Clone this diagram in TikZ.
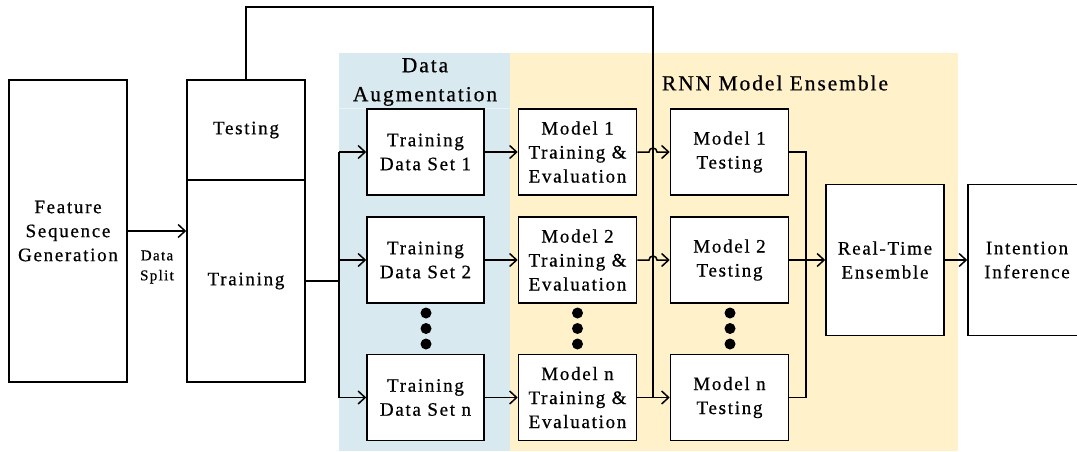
\documentclass[tikz,border=0pt]{standalone}
\usepackage{fontspec}
\setmainfont{Liberation Serif}[LetterSpace=9, FakeBold=0.6]
\usetikzlibrary{arrows.meta}
\definecolor{augblue}{RGB}{216,233,239}
\definecolor{ensyellow}{RGB}{255,241,201}
\begin{document}
\begin{tikzpicture}[x=1pt,y=-1pt,
  box/.style={draw, line width=1.6pt, fill=white, align=center, inner sep=0pt,
    font=\fontsize{19}{24}\selectfont},
  smallbox/.style={box, minimum width=117pt, minimum height=86pt},
  conn/.style={line width=1.5pt},
  arr/.style={conn, -{Straight Barb[length=7pt,width=13pt,line width=1.5pt]}},
  dot/.style={fill=black, draw=none, circle, minimum size=11pt, inner sep=0pt},
  paneltitle/.style={align=center, font=\fontsize{21.5}{29}\selectfont},
]
\useasboundingbox (0,0) rectangle (1077,451);
\clip (0,0) rectangle (1077,451);
% panels
\fill[augblue] (339,53) rectangle (510,451);
\fill[ensyellow] (510,53) rectangle (958,451);
\draw[line width=1pt, augblue!55!white] (339,108) -- (510,108);
\node[paneltitle] (datitle) at (425,82) {Data\\Augmentation};
\node[paneltitle] (rnntitle) at (775,83) {RNN Model Ensemble};
% left boxes
\node[box, minimum width=118pt, minimum height=302pt] (feat) at (68,231) {Feature\\Sequence\\Generation};
\node[box, minimum width=118pt, minimum height=100pt] (test) at (246,130) {Testing};
\node[box, minimum width=118pt, minimum height=202pt] (train) at (246,281) {Training};
\node[align=center, font=\fontsize{15}{20}\selectfont] (split) at (157,267) {Data\\Split};
% training data sets
\node[smallbox] (td1) at (425.5,152) {Training\\Data Set 1};
\node[smallbox] (td2) at (425.5,260) {Training\\Data Set 2};
\node[smallbox] (tdn) at (425.5,397.5) {Training\\Data Set n};
% model training
\node[smallbox, minimum width=118pt] (m1) at (577.5,152) {Model 1\\Training \&\\Evaluation};
\node[smallbox, minimum width=118pt] (m2) at (577.5,260) {Model 2\\Training \&\\Evaluation};
\node[smallbox, minimum width=118pt] (mn) at (577.5,397.5) {Model n\\Training \&\\Evaluation};
% model testing
\node[smallbox, minimum width=118pt] (t1) at (729.5,152) {Model 1\\Testing};
\node[smallbox, minimum width=118pt] (t2) at (729.5,260) {Model 2\\Testing};
\node[smallbox, minimum width=118pt] (tn) at (729.5,397.5) {Model n\\Testing};
% ensemble and inference
\node[box, minimum width=118pt, minimum height=151pt] (rte) at (885,260) {Real-Time\\Ensemble};
\node[box, minimum width=118pt, minimum height=151pt] (ii) at (1027,260) {Intention\\Inference};
% dots
\foreach \x/\n in {426/a,577.5/b,730/c}{
  \node[dot] (d1\n) at (\x,313) {};
  \node[dot] (d2\n) at (\x,328.5) {};
  \node[dot] (d3\n) at (\x,344) {};
}
% coordinates
\coordinate (topL) at (246,7);
\coordinate (topR) at (653,7);
\coordinate (jn) at (653,397.5);
\coordinate (sp) at (339,281);
\coordinate (sp1) at (339,152);
\coordinate (sp2) at (339,260);
\coordinate (spn) at (339,397.5);
\coordinate (j1) at (649,152);
\coordinate (j2) at (649,260);
\coordinate (e1) at (806,152);
\coordinate (e2) at (806,260);
\coordinate (en) at (806,397.5);
% connectors
\draw[arr] (feat.east) -- (feat.east -| train.west);
\draw[conn] (test.north) -- (topL) -- (topR) -- (jn);
\draw[conn] (train.east) -- (sp);
\draw[conn] (sp1) -- (spn);
\draw[arr] (sp1) -- (td1.west);
\draw[arr] (sp2) -- (td2.west);
\draw[arr] (spn) -- (tdn.west);
\draw[arr] (td1.east) -- (m1.west);
\draw[arr] (td2.east) -- (m2.west);
\draw[arr] (tdn.east) -- (mn.west);
\draw[arr] (m1.east) -- (j1) arc[start angle=180, end angle=0, radius=4pt] -- (t1.west);
\draw[arr] (m2.east) -- (j2) arc[start angle=180, end angle=0, radius=4pt] -- (t2.west);
\draw[arr] (mn.east) -- (tn.west);
\draw[conn] (t1.east) -- (e1) -- (en) -- (tn.east);
\draw[conn] (t2.east) -- (e2);
\draw[arr] (e2) -- (rte.west);
\draw[arr] (rte.east) -- (ii.west);
\end{tikzpicture}
\end{document}
